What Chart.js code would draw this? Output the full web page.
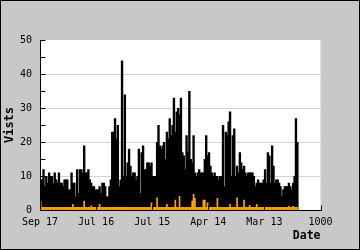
<!DOCTYPE html>
<html><head><meta charset="utf-8">
<script src="https://cdn.jsdelivr.net/npm/chart.js@4.4.1/dist/chart.umd.min.js"></script>
<style>html,body{margin:0;padding:0;background:#c8c8c8;}canvas{display:block;}</style>
</head><body>
<canvas id="c" width="360" height="250"></canvas>
<script>
// Tick labels of the x axis (day index 0..1000, step 200)
const tickLabels = ["Sep 17", "Jul 16", "Jul 15", "Apr 14", "Mar 13", "1000"];
const daysPerBar = 5;
// Visits (black bars), one value per 5-day slot
const visits = [
  9,9,12,7,10,8,11,10,10,8,
  11,9,8,11,8,8,7,9,9,9,
  6,6,11,8,8,4,12,5,12,12,
  11,19,11,11,12,9,8,7,7,6,
  6,6,7,5,8,8,7,4,4,7,
  9,23,23,27,21,25,7,9,44,10,
  34,10,14,18,13,10,11,11,9,10,
  18,5,17,19,12,12,14,14,13,14,
  10,10,10,20,25,19,18,19,20,15,
  23,21,27,22,25,33,23,29,30,28,
  33,17,16,12,22,17,35,15,14,22,
  11,10,11,12,11,11,11,15,22,16,
  17,13,11,10,11,10,10,9,10,10,
  25,7,23,22,26,29,10,22,24,10,
  13,11,17,14,12,13,11,10,11,11,
  11,11,10,7,8,9,8,8,8,9,
  12,8,17,16,8,19,13,8,9,9,
  8,7,4,6,7,7,7,8,7,6,
  8,10,27,20
];
// Orange series (small values near the baseline)
const uniques = [
  2.7,.9,.9,.9,.9,.9,.9,.9,.9,.9,
  .9,.9,.9,.9,.9,.9,.9,.9,.9,.9,
  .9,.9,.9,1.8,.9,.9,.9,.9,.9,.9,
  .9,2.7,.9,.9,.9,.9,1.3,.9,.9,.9,
  .9,.9,1.8,.9,.9,.9,.9,.9,.9,.9,
  .9,.9,.9,.9,.9,.9,.9,.9,.9,.9,
  .9,.9,.9,.9,.9,.9,.9,.9,.9,.9,
  .9,.9,.9,.9,.9,.9,.9,.9,.9,2.2,
  .9,.9,.9,3.7,.9,.9,.9,.9,.9,.9,
  1.8,.9,.9,.9,.9,.9,3,.9,.9,4.1,
  .9,.9,.9,.9,.9,.9,.9,.9,2.7,4.7,
  3.5,.9,.9,.9,.9,.9,3,3,.9,2.2,
  .9,.9,.9,.9,.9,.9,3.5,.9,.9,.9,
  .9,.9,.9,.9,.9,1.8,.9,.9,.9,.9,
  3.7,.9,.9,.9,.9,3,.9,.9,.9,1.5,
  .9,.9,.9,.9,1.8,.9,.9,.9,.9,.9,
  .9,.9,.9,.9,.9,.9,.9,.9,.9,.9,
  .9,.9,.9,.9,.9,.9,.9,1.2,.9,.9,
  1.2,.9,.9,.9
];
const gridValues = [10, 20, 30, 40];
const toPoints = arr => arr.map((v, i) => ({x: i * daysPerBar + daysPerBar / 2, y: v}));

const frame = {
  id: 'frame',
  beforeDraw(chart) {
    const {ctx, chartArea: a, width, height} = chart;
    ctx.save();
    ctx.fillStyle = '#c8c8c8';
    ctx.fillRect(0, 0, width, height);
    ctx.fillStyle = '#ffffff';
    ctx.fillRect(a.left, a.top, a.right - a.left, a.bottom - a.top);
    ctx.restore();
  },
  beforeDatasetsDraw(chart) {
    const {ctx, chartArea: a} = chart;
    const ys = chart.scales.y;
    ctx.save();
    ctx.fillStyle = '#d4d4d4';
    gridValues.forEach(v => {
      const py = Math.round(ys.getPixelForValue(v));
      ctx.fillRect(a.left, py, a.right - a.left, 1);
    });
    ctx.restore();
  },
  afterDatasetsDraw(chart) {
    const {ctx, chartArea: a, scales: {x, y}} = chart;
    ctx.save();
    ctx.strokeStyle = '#000';
    ctx.lineWidth = 1;
    ctx.beginPath();
    const lx = Math.round(a.left) + 0.5, by = Math.round(a.bottom) + 0.5;
    ctx.moveTo(lx, Math.round(a.top));
    ctx.lineTo(lx, by);
    ctx.lineTo(Math.round(a.right) + 1, by);
    for (let v = 0; v <= 50; v += 5) {
      const py = Math.round(y.getPixelForValue(v)) + 0.5;
      ctx.moveTo(lx, py); ctx.lineTo(lx + 5, py);
    }
    for (let v = 0; v <= 1000; v += 200) {
      const px = Math.round(x.getPixelForValue(v)) + 0.5;
      ctx.moveTo(px, by); ctx.lineTo(px, by - 5);
    }
    ctx.stroke();
    ctx.restore();
  },
  afterDraw(chart) {
    const {ctx, width, height} = chart;
    ctx.save();
    ctx.strokeStyle = '#000';
    ctx.lineWidth = 1;
    ctx.strokeRect(0.5, 0.5, width - 1, height - 1);
    ctx.restore();
  }
};

const mono = '"DejaVu Sans Mono", "Liberation Mono", monospace';

new Chart(document.getElementById('c'), {
  type: 'bar',
  data: {
    datasets: [
      {label: 'Uniques', data: toPoints(uniques), backgroundColor: '#ffa500', borderWidth: 0, grouped: false, order: 0,
       categoryPercentage: 1, barPercentage: 1.2},
      {label: 'Visits', data: toPoints(visits), backgroundColor: '#000000', borderWidth: 0, grouped: false, order: 1,
       categoryPercentage: 1, barPercentage: 1.7}
    ]
  },
  options: {
    responsive: false,
    animation: false,
    devicePixelRatio: 1,
    layout: {padding: {top: 40, right: 39.5, bottom: 0, left: 0}},
    plugins: {legend: {display: false}, tooltip: {enabled: false}},
    scales: {
      x: {
        type: 'linear', min: 0, max: 1000, offset: false,
        afterFit(s) { s.height = 40; },
        grid: {display: false, drawTicks: false},
        border: {display: false},
        ticks: {
          stepSize: 200, autoSkip: false, maxRotation: 0, padding: 6,
          color: '#000', font: {family: mono, size: 10},
          callback: (v, i) => tickLabels[i]
        },
        title: {display: true, text: 'Date', align: 'end', color: '#000',
                font: {family: mono, size: 11.5, weight: 'bold'}, padding: {top: 0, bottom: 7}}
      },
      y: {
        min: 0, max: 50,
        afterFit(s) { s.width = 40; },
        grid: {display: false, drawTicks: false},
        border: {display: false},
        ticks: {stepSize: 10, padding: 8, color: '#000', font: {family: mono, size: 10}},
        title: {display: true, text: 'Vists', color: '#000',
                font: {family: mono, size: 12, weight: 'bold'}, padding: {top: 3, bottom: 0}}
      }
    }
  },
  plugins: [frame]
});
</script>
</body></html>
